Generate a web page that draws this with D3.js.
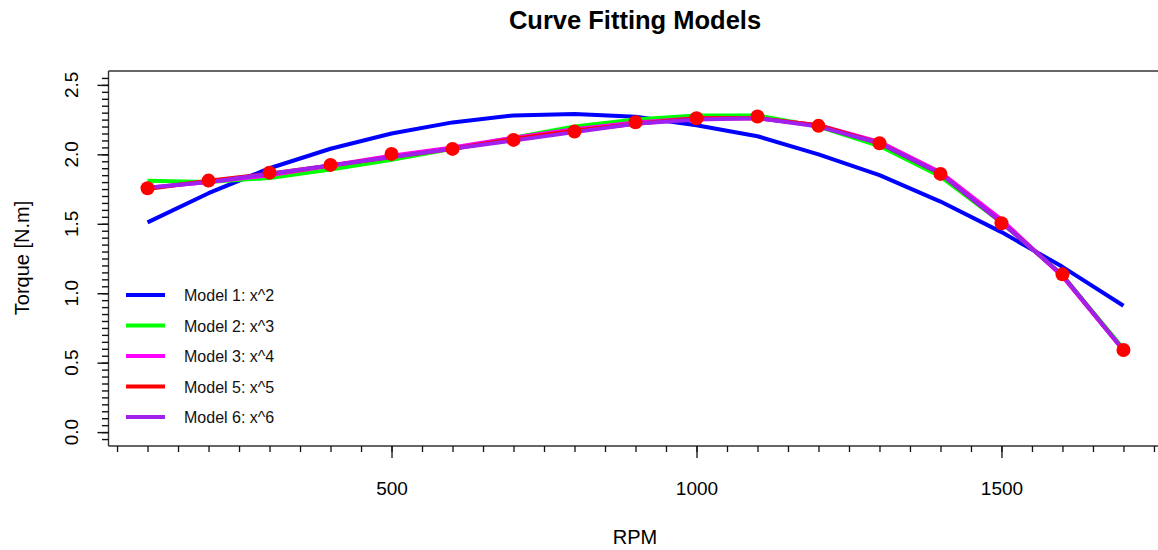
<!DOCTYPE html>
<html>
<head>
<meta charset="utf-8">
<script src="https://cdn.jsdelivr.net/npm/d3@7"></script>
<style>
  html, body { margin: 0; padding: 0; background: #fff; }
  svg { display: block; font-family: "Liberation Sans", Arial, sans-serif; }
</style>
</head>
<body>
<svg id="chart" width="1158" height="550"></svg>
<script>
// Measured engine speed and torque
const rpm = [100, 200, 300, 400, 500, 600, 700, 800, 900, 1000, 1100, 1200, 1300, 1400, 1500, 1600, 1700];
const torque = [1.756, 1.811, 1.868, 1.924, 2.003, 2.039, 2.104, 2.164, 2.231, 2.260, 2.272, 2.205, 2.080, 1.859, 1.504, 1.136, 0.591];

// Fitted values of each polynomial model at the measured speeds
const model1 = [1.51, 1.72, 1.90, 2.04, 2.15, 2.23, 2.28, 2.29, 2.27, 2.21, 2.13, 2.00, 1.85, 1.66, 1.44, 1.19, 0.91];
const model2 = [1.81, 1.80, 1.83, 1.89, 1.96, 2.04, 2.12, 2.20, 2.25, 2.28, 2.28, 2.20, 2.06, 1.84, 1.51, 1.13, 0.60];
const model3 = [1.76, 1.80, 1.85, 1.92, 1.99, 2.05, 2.12, 2.18, 2.23, 2.26, 2.26, 2.21, 2.09, 1.87, 1.53, 1.12, 0.59];
const model5 = [1.75, 1.81, 1.86, 1.92, 1.98, 2.04, 2.11, 2.17, 2.22, 2.26, 2.26, 2.21, 2.08, 1.86, 1.51, 1.13, 0.59];
const model6 = [1.76, 1.80, 1.86, 1.92, 1.98, 2.04, 2.10, 2.16, 2.22, 2.25, 2.26, 2.20, 2.08, 1.86, 1.51, 1.13, 0.59];

const modelNames = ["Model 1: x^2", "Model 2: x^3", "Model 3: x^4", "Model 5: x^5", "Model 6: x^6"];
const modelColors = ["#0000FF", "#00FF00", "#FF00FF", "#FF0000", "#A020F0"];
const modelValues = [model1, model2, model3, model5, model6];

const xTicks = [500, 1000, 1500];
const yTicks = [0.0, 0.5, 1.0, 1.5, 2.0, 2.5];

const svg = d3.select("#chart");

const x = d3.scaleLinear().domain([36, 1764]).range([108.5, 1162.5]);
const y = d3.scaleLinear().domain([-0.1, 2.6]).range([446, 71]);

// Title
svg.append("text")
  .attr("x", 635).attr("y", 29)
  .attr("text-anchor", "middle")
  .style("font-weight", "bold")
  .style("font-size", "25.5px")
  .text("Curve Fitting Models");

// Plot frame (left, top, bottom)
const frame = svg.append("g").attr("stroke", "#333").attr("stroke-width", 1.4).attr("fill", "none");
frame.append("line").attr("x1", x.range()[0]).attr("x2", 1158).attr("y1", y(2.6)).attr("y2", y(2.6));
frame.append("line").attr("x1", x.range()[0]).attr("x2", 1158).attr("y1", y(-0.1)).attr("y2", y(-0.1));
frame.append("line").attr("x1", x.range()[0]).attr("x2", x.range()[0]).attr("y1", y(2.6)).attr("y2", y(-0.1));

// X axis: major and minor ticks
const xMinor = d3.range(50, 1751, 50);
const gxMinor = svg.append("g").attr("transform", `translate(0,${y(-0.1)})`)
  .call(d3.axisBottom(x).tickValues(xMinor).tickSize(6).tickFormat(""));
const gx = svg.append("g").attr("transform", `translate(0,${y(-0.1)})`)
  .call(d3.axisBottom(x).tickValues(xTicks).tickSize(12).tickPadding(24).tickFormat(d3.format("d")));
[gx, gxMinor].forEach(g => {
  g.select(".domain").remove();
  g.selectAll(".tick line").attr("stroke", "#111").attr("stroke-width", 1.3);
});
gx.selectAll(".tick text")
  .attr("fill", "#000")
  .style("font-size", "19px")
  .style("font-family", "'Liberation Sans', Arial, sans-serif");

// Y axis: major and minor ticks, labels rotated
const yMinor = d3.range(-0.05, 2.56, 0.05);
const gyMinor = svg.append("g").attr("transform", `translate(${x.range()[0]},0)`)
  .call(d3.axisLeft(y).tickValues(yMinor).tickSize(6.5).tickFormat(""));
const gy = svg.append("g").attr("transform", `translate(${x.range()[0]},0)`)
  .call(d3.axisLeft(y).tickValues(yTicks).tickSize(11).tickFormat(""));
[gy, gyMinor].forEach(g => {
  g.select(".domain").remove();
  g.selectAll(".tick line").attr("stroke", "#111").attr("stroke-width", 1.4);
});
svg.append("g").selectAll("text")
  .data(yTicks)
  .join("text")
  .attr("transform", d => `translate(78,${y(d)}) rotate(-90)`)
  .attr("text-anchor", "middle")
  .style("font-size", "19px")
  .text(d => d.toFixed(1));

// Axis titles
svg.append("text")
  .attr("x", 635).attr("y", 544)
  .attr("text-anchor", "middle")
  .style("font-size", "20px")
  .text("RPM");
svg.append("text")
  .attr("transform", `translate(29,258) rotate(-90)`)
  .attr("text-anchor", "middle")
  .style("font-size", "20px")
  .text("Torque [N.m]");

// Fitted curves
const line = d3.line()
  .x((d, i) => x(rpm[i]))
  .y(d => y(d));
svg.append("g")
  .selectAll("path")
  .data(modelValues)
  .join("path")
  .attr("d", d => line(d))
  .attr("fill", "none")
  .attr("stroke", (d, i) => modelColors[i])
  .attr("stroke-width", 4)
  .attr("stroke-linejoin", "round");

// Measured points
svg.append("g")
  .selectAll("circle")
  .data(torque)
  .join("circle")
  .attr("cx", (d, i) => x(rpm[i]))
  .attr("cy", d => y(d))
  .attr("r", 7)
  .attr("fill", "#FF0000");

// Legend
const legend = svg.append("g");
const legendY = d3.scalePoint().domain(modelNames).range([295, 417]);
legend.selectAll("line")
  .data(modelNames)
  .join("line")
  .attr("x1", 126).attr("x2", 165)
  .attr("y1", d => legendY(d)).attr("y2", d => legendY(d))
  .attr("stroke", (d, i) => modelColors[i])
  .attr("stroke-width", 4);
legend.selectAll("text")
  .data(modelNames)
  .join("text")
  .attr("x", 184)
  .attr("y", d => legendY(d) + 6)
  .style("font-size", "16px")
  .attr("fill", "#111")
  .text(d => d);
</script>
</body>
</html>
